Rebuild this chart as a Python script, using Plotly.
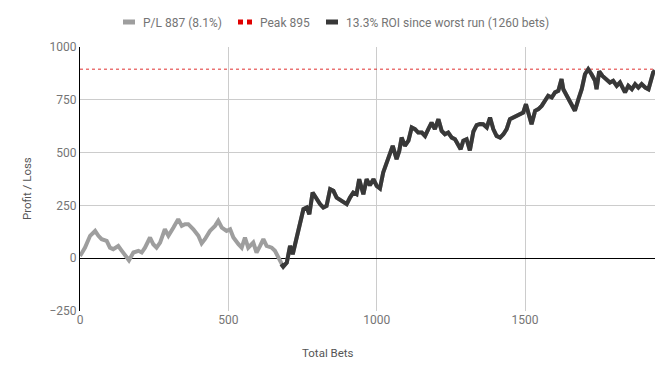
import plotly.graph_objects as go

# ---- data ----
bets = [0, 17, 34, 51, 62, 73, 90, 101, 112, 129, 141, 157, 165, 180, 197, 208, 219, 236, 247, 258,
        270, 286, 298, 315, 331, 343, 354, 365, 382, 399, 410, 421, 438, 455, 466, 478, 494, 506, 517,
        534, 545, 556, 567, 584, 595, 607, 618, 629, 646, 657, 668, 678, 685, 697, 708, 717, 725, 736,
        747, 753, 764, 773, 784, 798, 809, 820, 831, 843, 854, 865, 882, 899, 910, 921, 932, 941, 955,
        966, 977, 989, 1000, 1011, 1022, 1034, 1045, 1054, 1067, 1076, 1084, 1095, 1107, 1118, 1129,
        1140, 1152, 1163, 1174, 1185, 1196, 1208, 1219, 1230, 1241, 1253, 1264, 1275, 1283, 1292, 1303,
        1314, 1326, 1337, 1348, 1359, 1371, 1382, 1393, 1404, 1416, 1427, 1438, 1449, 1460, 1472, 1483,
        1494, 1503, 1511, 1522, 1534, 1545, 1556, 1567, 1578, 1590, 1601, 1612, 1623, 1629, 1640, 1651,
        1663, 1668, 1680, 1691, 1702, 1713, 1724, 1736, 1741, 1750, 1761, 1775, 1786, 1797, 1809, 1820,
        1837, 1848, 1860, 1871, 1882, 1893, 1905, 1916, 1923, 1932, 1938]
profit_loss = [10, 50, 106, 129, 106, 90, 82, 50, 43, 58, 35, 3, -10, 27, 35, 27, 50, 98, 66, 50,
               74, 137, 106, 145, 185, 153, 161, 161, 137, 106, 70, 90, 129, 153, 177, 145, 129, 137, 98,
               66, 50, 98, 50, 74, 27, 58, 90, 58, 50, 35, 3, -28, -40, -21, 58, 19, 66, 129,
               185, 232, 240, 208, 311, 279, 256, 240, 248, 327, 319, 287, 271, 256, 287, 311, 303, 374, 303,
               374, 345, 374, 342, 330, 406, 453, 508, 532, 469, 508, 571, 532, 556, 619, 611,
               595, 595, 579, 611, 642, 611, 658, 603, 587, 595, 571, 563, 540, 516, 556, 563,
               510, 600, 630, 635, 634, 619, 666, 611, 579, 571, 587, 611, 658, 666, 674, 682,
               690, 729, 682, 634, 698, 706, 721, 745, 769, 761, 785, 792, 848, 800, 769, 745,
               713, 698, 753, 800, 871, 895, 871, 840, 800, 885, 863, 848, 832, 840, 816, 832,
               785, 816, 800, 824, 808, 824, 808, 800, 840, 880, 887]
peak_value = 895
worst_run_start = 678
legend_labels = ["P/L 887 (8.1%)", "Peak 895", "13.3% ROI since worst run (1260 bets)"]
x_ticks = [0, 500, 1000, 1500]
y_ticks = [-250, 0, 250, 500, 750, 1000]

GREY = "#9e9e9e"
DARK = "#383838"
RED = "#e03030"
FONT = "Roboto"

dark_x = [b for b in bets if b >= worst_run_start]
dark_y = [v for b, v in zip(bets, profit_loss) if b >= worst_run_start]

fig = go.Figure()
fig.add_trace(go.Scatter(x=[bets[0], bets[-1]], y=[peak_value, peak_value], mode="lines",
                         line=dict(color=RED, width=1, dash="dot"), showlegend=False, hoverinfo="skip"))
fig.add_trace(go.Scatter(x=bets, y=profit_loss, mode="lines",
                         line=dict(color=GREY, width=4), showlegend=False))
fig.add_trace(go.Scatter(x=dark_x, y=dark_y, mode="lines",
                         line=dict(color=DARK, width=4), showlegend=False))

# legend-only entries (short swatches like the reference)
fig.add_trace(go.Scatter(x=[None], y=[None], mode="lines", name=legend_labels[0], legend="legend",
                         line=dict(color=GREY, width=5, dash="0px,15px,12px,40px")))
fig.add_trace(go.Scatter(x=[None], y=[None], mode="lines", name=legend_labels[1], legend="legend2",
                         line=dict(color="#e00000", width=5, dash="0px,13px,5px,4px,5px,40px")))
fig.add_trace(go.Scatter(x=[None], y=[None], mode="lines", name=legend_labels[2], legend="legend3",
                         line=dict(color=DARK, width=5, dash="0px,15px,12px,40px")))

leg_common = dict(orientation="h", xref="container", yref="container", xanchor="left",
                  yanchor="middle", y=1 - 22 / 375, font=dict(family=FONT, size=12, color="#757575"),
                  bgcolor="rgba(0,0,0,0)", itemwidth=30, itemclick=False, itemdoubleclick=False)

fig.update_layout(
    width=672, height=375,
    margin=dict(l=80, r=17, t=47, b=64, autoexpand=False),
    paper_bgcolor="white", plot_bgcolor="white",
    font=dict(family=FONT, size=12, color="#757575"),
    legend=dict(leg_common, x=103 / 672),
    legend2=dict(leg_common, x=220 / 672),
    legend3=dict(leg_common, x=306 / 672),
    xaxis=dict(range=[0, bets[-1]], tickvals=x_ticks, showgrid=True, gridcolor="#cccccc",
               gridwidth=1, zeroline=False, showline=False, ticks="", automargin=False,
               tickfont=dict(family=FONT, size=12, color="#757575")),
    yaxis=dict(range=[y_ticks[0], y_ticks[-1]], tickvals=y_ticks, showgrid=True, gridcolor="#cccccc",
               gridwidth=1, zeroline=True, zerolinecolor="#000000", zerolinewidth=1,
               showline=True, linecolor="#000000", linewidth=1, ticks="", automargin=False,
               tickfont=dict(family=FONT, size=12, color="#757575")),
    annotations=[
        dict(text="Total Bets", xref="paper", yref="paper", x=(328 - 80) / 575, y=(311 - 353) / 264,
             showarrow=False, xanchor="center", yanchor="middle",
             font=dict(family=FONT, size=11.5, color="#555555")),
        dict(text="Profit / Loss", xref="paper", yref="paper", x=(27 - 80) / 575, y=(311 - 189) / 264,
             showarrow=False, xanchor="center", yanchor="middle", textangle=-90,
             font=dict(family=FONT, size=11.5, color="#555555")),
    ],
)

fig.write_html("out.html", config={"displayModeBar": False},
               post_script="document.body.style.margin='0px';")
